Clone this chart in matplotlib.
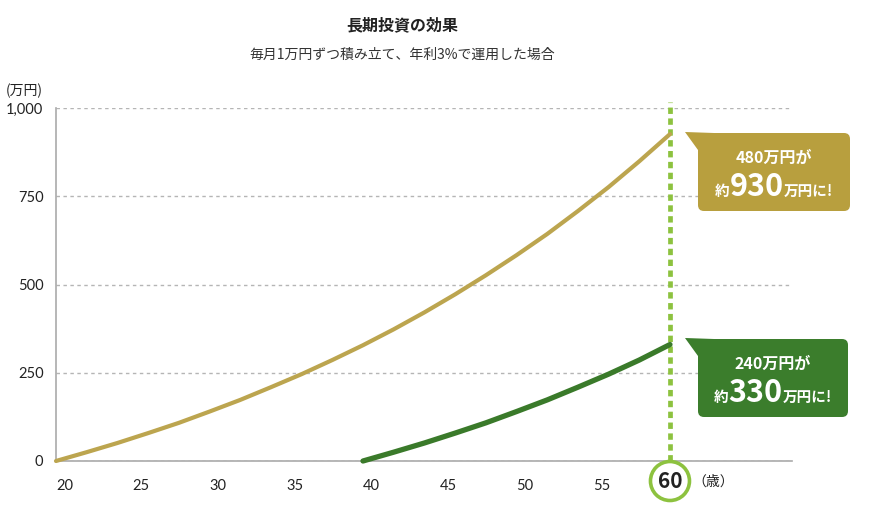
import numpy as np
import matplotlib
matplotlib.use('Agg')
import matplotlib.pyplot as plt
from matplotlib.patches import FancyBboxPatch, Polygon, Circle

plt.rcParams['font.family'] = ['Lato', 'Noto Sans CJK JP', 'DejaVu Sans']
plt.rcParams['axes.unicode_minus'] = False

# 40年間 (20歳から) 積み立て
ages_40y = [20, 22, 24, 26, 28, 30, 32, 34, 36, 38, 40,
            42, 44, 46, 48, 50, 52, 54, 56, 58, 60]
total_40y = [0, 25, 51, 79, 108, 140, 173, 209, 246, 286, 328,
             373, 421, 472, 526, 583, 643, 708, 776, 849, 926]
# 20年間 (40歳から) 積み立て
ages_20y = [40, 42, 44, 46, 48, 50, 52, 54, 56, 58, 60]
total_20y = [0, 25, 51, 79, 108, 140, 173, 209, 246, 286, 330]

x_ticks = [20, 25, 30, 35, 40, 45, 50, 55]
y_ticks = [0, 250, 500, 750, 1000]
y_labels = ['0', '250', '500', '750', '1,000']
target_age = 60

gold = '#bca54f'
gold_box = '#b89f3e'
green = '#3a7a2a'
green_box = '#3b7d2c'
lime = '#8dc23f'
grey = '#aaaaaa'
jp = ['Noto Sans CJK JP', 'DejaVu Sans']

W, H = 870, 521
fig = plt.figure(figsize=(W / 100, H / 100), dpi=100)

ax = fig.add_axes([56 / W, 60 / H, 736 / W, 353 / H])
ax.set_xlim(20, 67.95)
ax.set_ylim(0, 1000)
for s in ['top', 'right']:
    ax.spines[s].set_visible(False)
for s in ['left', 'bottom']:
    ax.spines[s].set_color(grey)
    ax.spines[s].set_linewidth(1.2)

ax.set_yticks(y_ticks)
ax.set_yticklabels(y_labels, fontsize=10.5, color='#222222')
ax.set_xticks(x_ticks)
ax.set_xticklabels([str(t) for t in x_ticks], fontsize=10.5, color='#222222', ha='left')
ax.tick_params(length=0)
ax.tick_params(axis='y', pad=9)
ax.tick_params(axis='x', pad=13)
ax.yaxis.grid(True, color='#b5b5b5', linestyle=(0, (2.5, 2.5)), linewidth=1)
ax.set_axisbelow(True)

# 縦の点線 (60歳)
ax.plot([target_age, target_age], [0, 1000 * (461 - 102) / 353], color=lime, lw=3.4,
        linestyle=(0, (1.35, 0.95)), dash_capstyle='butt', clip_on=False, zorder=2)

ax.plot(ages_40y, total_40y, color=gold, lw=3, solid_capstyle='round', zorder=3, clip_on=False)
ax.plot(ages_20y, total_20y, color=green, lw=3.8, solid_capstyle='round', zorder=3, clip_on=False)

# 全体の座標 (ピクセル, 上が0) - 注記用
ov = fig.add_axes([0, 0, 1, 1])
ov.set_xlim(0, W)
ov.set_ylim(H, 0)
ov.axis('off')
ov.patch.set_visible(False)

# 60歳の丸
cx = ov.transData.inverted().transform(ax.transData.transform((target_age, 0)))[0]
ov.add_patch(Circle((cx, 481), 19.5, facecolor='white', edgecolor=lime, lw=2.6, zorder=5))
ov.text(cx, 482, '60', ha='center', va='center', fontsize=15, fontweight='bold',
        color='#222222', zorder=6, family=jp)
ov.text(cx + 22, 482, '（歳）', ha='left', va='center', fontsize=10, color='#222222', family=jp)
ov.text(6, 91, '(万円)', ha='left', va='center', fontsize=10, color='#222222', family=jp)

# タイトル
ov.text(402, 25, '長期投資の効果', ha='center', va='center', fontsize=11.5,
        fontweight='bold', color='#222222', family=jp)
ov.text(402, 55, '毎月1万円ずつ積み立て、年利3%で運用した場合', ha='center', va='center',
        fontsize=10, color='#333333', family=jp)


def callout(x0, y0, x1, y1, color, line1, big):
    ov.add_patch(FancyBboxPatch((x0, y0), x1 - x0, y1 - y0,
                                boxstyle='round,pad=0,rounding_size=6',
                                facecolor=color, edgecolor='none', zorder=4))
    ov.add_patch(Polygon([(x0 - 13, y0 - 1), (x0 + 16, y0), (x0, y0 + 17)],
                         closed=True, facecolor=color, edgecolor='none', zorder=4))
    xc = (x0 + x1) / 2
    ov.text(xc, y0 + 25, line1, ha='center', va='center', fontsize=11.5,
            fontweight='bold', color='white', zorder=6, family=jp)
    base = y0 + 63
    parts = [('約', 10.5), (big, 22), ('万円に!', 10.5)]
    texts = [ov.text(0, base, p, ha='left', va='baseline', fontsize=f,
                     fontweight='bold', color='white', zorder=6, family=jp)
             for p, f in parts]
    r = fig.canvas.get_renderer()
    widths = [t.get_window_extent(r).width for t in texts]
    x = xc - sum(widths) / 2
    for t, w in zip(texts, widths):
        t.set_x(x)
        x += w


callout(698, 133, 850, 211, gold_box, '480万円が', '930')
callout(698, 339, 848, 417, green_box, '240万円が', '330')

fig.savefig('out.png', dpi=100)
